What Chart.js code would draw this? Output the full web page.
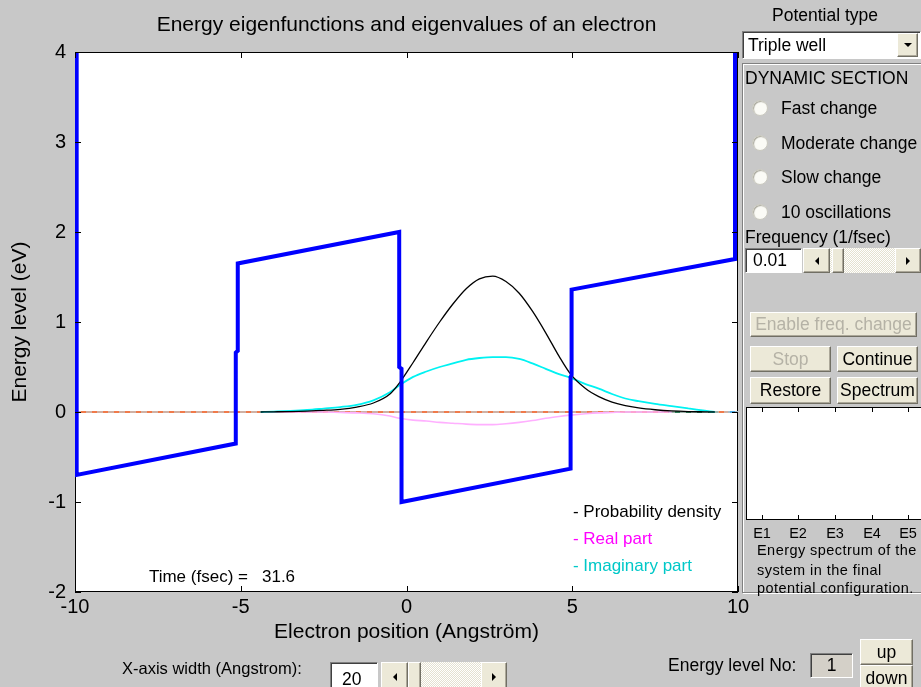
<!DOCTYPE html>
<html>
<head>
<meta charset="utf-8">
<script src="https://cdn.jsdelivr.net/npm/chart.js@4.4.1/dist/chart.umd.min.js"></script>
<style>
  html, body { margin:0; padding:0; }
  body { width:921px; height:687px; overflow:hidden; position:relative; background:#c8c8c8;
         font-family:'Liberation Sans', Arial, sans-serif; color:#000; }
  #plot { position:absolute; left:0; top:0; }
  .abs { position:absolute; white-space:nowrap; }
  .lbl { position:absolute; white-space:nowrap; font-size:17.5px; line-height:20px; }
  .btn { position:absolute; box-sizing:border-box; background:#ece9d8;
         border-top:1px solid #fff; border-left:1px solid #fff;
         border-right:1px solid #716f64; border-bottom:1px solid #716f64;
         box-shadow: inset -1px -1px 0 #aca899;
         display:flex; align-items:center; justify-content:center;
         font-size:17.5px; white-space:nowrap; }
  .btn.off { color:#b5b2a6; }
  .edit { position:absolute; box-sizing:border-box; background:#fff;
          border-top:1px solid #808080; border-left:1px solid #808080;
          border-right:1px solid #fff; border-bottom:1px solid #fff;
          box-shadow: inset 1px 1px 0 #404040;
          font-size:17.5px; display:flex; align-items:center; white-space:nowrap; }
  .trough { position:absolute; box-sizing:border-box;
            background: repeating-conic-gradient(#ffffff 0 25%, #e4e1d0 0 50%) 0 0/2px 2px; }
  .tri-l { width:0; height:0; border-top:4px solid transparent; border-bottom:4px solid transparent; border-right:4px solid #000; }
  .tri-r { width:0; height:0; border-top:4px solid transparent; border-bottom:4px solid transparent; border-left:4px solid #000; }
  .tri-d { width:0; height:0; border-left:4px solid transparent; border-right:4px solid transparent; border-top:4px solid #000; }
  .radio { position:absolute; width:16px; height:16px; box-sizing:border-box; border-radius:50%;
           background:#fbfbf6; border:1px solid #c9c8bf; box-shadow: inset 1px 1px 1px #a8a79c; }
  .frame { position:absolute; box-sizing:border-box; border:1px solid #808080;
           box-shadow: inset 1px 1px 0 #fff, 1px 1px 0 #fff; }
  .spec { position:absolute; box-sizing:border-box; background:#fff;
          border-top:1px solid #000; border-left:1px solid #000; border-bottom:1px solid #000; }
  .tick { position:absolute; width:1px; height:4px; background:#000; }
  .note { position:absolute; white-space:nowrap; font-size:14.5px; letter-spacing:0.45px; line-height:18px; }
</style>
</head>
<body>
<canvas id="plot" width="921" height="687"></canvas>
<div id="gui"></div>
<script>
// Axis ranges and tick values
const xRange = [-10, 10];
const yRange = [-2, 4];
const xTickStep = 5;
const yTickStep = 1;

// Triple-well potential energy profile (Angström, eV)
const potentialX = [-9.95, -9.95, -5.15, -5.15, -5.09, -5.09, -0.22, -0.22, -0.15, -0.15, 4.95, 4.95, 4.98, 4.98, 9.91, 9.91];
const potentialE = [4.00, -0.70, -0.35, 0.66, 0.68, 1.65, 2.00, 0.50, 0.48, -1.00, -0.63, 0.39, 0.41, 1.36, 1.70, 4.00];

// Wave packet sample positions (Angström)
const waveX = [-4.4, -4.0, -3.5, -3.0, -2.5, -2.0, -1.5, -1.0, -0.5, -0.2, 0.2, 0.6, 1.0, 1.4, 1.8, 2.2, 2.6,
               3.0, 3.4, 3.8, 4.2, 4.6, 4.95, 5.4, 5.8, 6.2, 6.6, 7.0, 7.5, 8.0, 8.5, 9.0, 9.3];
// Probability density
const probDensity = [0, 0.002, 0.005, 0.01, 0.018, 0.03, 0.055, 0.10, 0.20, 0.33, 0.55, 0.78, 1.00, 1.20, 1.37, 1.48, 1.51,
                     1.45, 1.32, 1.12, 0.88, 0.62, 0.42, 0.26, 0.17, 0.11, 0.07, 0.045, 0.025, 0.012, 0.005, 0.002, 0];
// Real part of the wave function
const realPart = [0, 0, 0, 0, 0, -0.005, -0.01, -0.02, -0.045, -0.07, -0.09, -0.10, -0.115, -0.125, -0.135, -0.14, -0.14,
                  -0.13, -0.115, -0.095, -0.07, -0.05, -0.035, -0.02, -0.01, -0.005, 0, 0, 0, 0, null, null, null];
// Imaginary part of the wave function
const imagPart = [0, 0.005, 0.012, 0.022, 0.038, 0.055, 0.08, 0.13, 0.22, 0.30, 0.39, 0.45, 0.50, 0.54, 0.58, 0.60, 0.61,
                  0.61, 0.59, 0.54, 0.48, 0.42, 0.38, 0.31, 0.26, 0.20, 0.15, 0.12, 0.09, 0.065, 0.04, 0.015, 0];

// Zero-energy reference traces
const baseX = [-10, 10];
const baseE = [0, 0];
const tailX = [7.9, 9.4];
const tailE = [0, 0];
const edgeX = [9.7, 10];
const edgeE = [0, 0];

// Readouts and labels
const timeFsec = 31.6;
const legendLabels = ['- Probability density', '- Real part', '- Imaginary part'];
const spectrumLabels = ['E1', 'E2', 'E3', 'E4', 'E5'];
const radioLabels = ['Fast change', 'Moderate change', 'Slow change', '10 oscillations'];
const frequencyValue = '0.01';
const xWidthValue = '20';
const energyLevelNo = '1';

const pts = (xs, ys) => xs.map((x, i) => ({ x: x, y: ys[i] }));

const FONT = "'Liberation Sans', Arial, sans-serif";
Chart.defaults.font.family = FONT;
Chart.defaults.color = '#000';

// White plot area, box outline, inward tick marks and in-plot text
const axesBox = {
  id: 'axesBox',
  beforeDraw(chart) {
    const { ctx, chartArea: a } = chart;
    ctx.save();
    ctx.fillStyle = '#ffffff';
    ctx.fillRect(a.left, a.top, a.right - a.left, a.bottom - a.top);
    ctx.restore();
  },
  beforeDatasetsDraw(chart) {
    const { ctx, chartArea: a } = chart;
    ctx.save();
    ctx.strokeStyle = '#000';
    ctx.lineWidth = 1;
    ctx.strokeRect(a.left + 0.5, a.top + 0.5, a.right - a.left - 1, a.bottom - a.top - 1);
    ctx.restore();
  },
  afterDatasetsDraw(chart) {
    const { ctx, chartArea: a, scales } = chart;
    const xs = scales.x, ys = scales.y;
    const L = 6;
    ctx.save();
    ctx.strokeStyle = '#000';
    ctx.lineWidth = 1;
    ctx.beginPath();
    xs.ticks.forEach(t => {
      const px = Math.round(xs.getPixelForValue(t.value)) + 0.5;
      ctx.moveTo(px, a.top); ctx.lineTo(px, a.top + L);
      ctx.moveTo(px, a.bottom); ctx.lineTo(px, a.bottom - L);
    });
    ys.ticks.forEach(t => {
      const py = Math.round(ys.getPixelForValue(t.value)) + 0.5;
      ctx.moveTo(a.left, py); ctx.lineTo(a.left + L, py);
      ctx.moveTo(a.right, py); ctx.lineTo(a.right - L, py);
    });
    ctx.stroke();

    // time readout
    ctx.font = '17px ' + FONT;
    ctx.textBaseline = 'middle';
    ctx.textAlign = 'left';
    ctx.fillStyle = '#000';
    const ty = ys.getPixelForValue(-1.84);
    ctx.fillText('Time (fsec) =', xs.getPixelForValue(-7.77), ty);
    ctx.fillText(String(timeFsec), xs.getPixelForValue(-4.36), ty);

    // legend text
    const legendColors = ['#000000', '#ff00ff', '#00c8c8'];
    const legendY = [-1.12, -1.41, -1.72];
    legendLabels.forEach((s, i) => {
      ctx.fillStyle = legendColors[i];
      ctx.fillText(s, xs.getPixelForValue(5.02), ys.getPixelForValue(legendY[i]));
    });
    ctx.restore();
  }
};

new Chart(document.getElementById('plot'), {
  type: 'line',
  data: {
    datasets: [
      { label: 'Potential', data: pts(potentialX, potentialE), borderColor: '#0000ff', borderWidth: 4,
        pointRadius: 0, order: 0, borderJoinStyle: 'miter' },
      { label: 'Probability density', data: pts(waveX, probDensity), borderColor: '#000000', borderWidth: 1.3,
        pointRadius: 0, cubicInterpolationMode: 'monotone', order: 1 },
      { label: 'Imaginary part', data: pts(waveX, imagPart), borderColor: '#00f2f2', borderWidth: 1.8,
        pointRadius: 0, cubicInterpolationMode: 'monotone', order: 2 },
      { label: 'Real part', data: pts(waveX, realPart), borderColor: '#ffb0ff', borderWidth: 1.6,
        pointRadius: 0, cubicInterpolationMode: 'monotone', order: 3, spanGaps: false },
      { label: 'Energy level', data: pts(baseX, baseE), borderColor: '#c4c4c4', borderWidth: 1.5,
        borderDash: [6, 5], pointRadius: 0, order: 4 },
      { label: 'tail', data: pts(tailX, tailE), borderColor: '#2b7a55', borderWidth: 2, pointRadius: 0, order: 5 },
      { label: 'edge', data: pts(edgeX, edgeE), borderColor: '#4aa8e0', borderWidth: 2, pointRadius: 0, order: 6 },
      { label: 'base', data: pts(baseX, baseE), borderColor: '#f07a4a', borderWidth: 2, pointRadius: 0, order: 7 }
    ]
  },
  options: {
    responsive: false,
    animation: false,
    devicePixelRatio: 1,
    layout: { padding: { left: 0, top: 0, right: 183, bottom: 0 } },
    plugins: {
      legend: { display: false },
      tooltip: { enabled: false },
      title: {
        display: true, fullSize: false,
        text: 'Energy eigenfunctions and eigenvalues of an electron',
        font: { size: 21, weight: 'normal' }, color: '#000',
        padding: { top: 13, bottom: 13.8 }
      }
    },
    scales: {
      x: {
        type: 'linear', min: xRange[0], max: xRange[1],
        ticks: { stepSize: xTickStep, font: { size: 20 }, color: '#000', padding: 3, maxRotation: 0 },
        grid: { display: false, drawTicks: false },
        border: { display: false },
        title: { display: true, text: 'Electron position (Angström)', font: { size: 21 }, color: '#000',
                 padding: { top: 0, bottom: 42 } },
        afterFit(s) { s.height = 95; }
      },
      y: {
        type: 'linear', min: yRange[0], max: yRange[1],
        ticks: { stepSize: yTickStep, font: { size: 20 }, color: '#000', padding: 9 },
        grid: { display: false, drawTicks: false },
        border: { display: false },
        title: { display: true, text: 'Energy level (eV)', font: { size: 21 }, color: '#000',
                 padding: { top: 8, bottom: 0 } },
        afterFit(s) { s.width = 75; }
      }
    }
  },
  plugins: [axesBox]
});

// ---- control panel widgets ----
const gui = document.getElementById('gui');
function el(cls, x, y, w, h, html, extra) {
  const d = document.createElement('div');
  d.className = cls;
  d.style.left = x + 'px'; d.style.top = y + 'px';
  if (w != null) d.style.width = w + 'px';
  if (h != null) d.style.height = h + 'px';
  if (html != null) d.innerHTML = html;
  if (extra) Object.assign(d.style, extra);
  gui.appendChild(d);
  return d;
}
function slider(x, y, w, h, thumbX, thumbW) {
  el('trough', x, y, w, h);
  el('btn', x, y, 27, h, '<div class="tri-l"></div>');
  el('btn', thumbX, y, thumbW, h);
  el('btn', x + w - 26, y, 26, h, '<div class="tri-r"></div>');
}

// potential selector
el('lbl', 772, 5, null, null, 'Potential type');
el('edit', 742, 31, 179, 28, '<span style="padding-left:5px">Triple well</span>');
el('btn', 897, 33, 21, 24, '<div class="tri-d"></div>');

// dynamic section frame
el('frame', 742, 63, 190, 530);
el('lbl', 745, 68, null, null, 'DYNAMIC SECTION');
const radioY = [108, 143, 177, 212];
radioLabels.forEach((s, i) => {
  el('radio', 752, radioY[i] - 8);
  el('lbl', 781, radioY[i] - 10, null, null, s);
});
el('lbl', 745, 227, null, null, 'Frequency (1/fsec)');
el('edit', 745, 248, 57, 25, '<span style="padding-left:7px">' + frequencyValue + '</span>');
slider(803, 248, 118, 25, 832, 12);

el('btn off', 750, 312, 167, 25, 'Enable freq. change');
el('btn off', 750, 346, 81, 26, 'Stop');
el('btn', 837, 346, 81, 26, 'Continue');
el('btn', 750, 377, 81, 27, 'Restore');
el('btn', 837, 377, 81, 27, 'Spectrum');

// energy spectrum axes
el('spec', 746, 407, 180, 113);
const specX = [762, 798, 835, 872, 908];
spectrumLabels.forEach((s, i) => {
  el('tick', specX[i], 408);
  el('tick', specX[i], 515);
  el('abs', specX[i] - 12, 524, 24, null, s, { fontSize: '14.5px', textAlign: 'center', lineHeight: '18px' });
});
el('note', 757, 541, null, null, 'Energy spectrum of the');
el('note', 757, 561, null, null, 'system in the final');
el('note', 757, 579, null, null, 'potential configuration.');

// bottom controls
el('lbl', 122, 658, null, null, 'X-axis width (Angstrom):', { fontSize: '16.5px' });
el('edit', 330, 662, 48, 30, '<span style="padding-left:11px;padding-top:4px">' + xWidthValue + '</span>');
slider(381, 662, 126, 30, 408, 13);

el('lbl', 668, 655, null, null, 'Energy level No:');
el('edit', 810, 653, 43, 25, energyLevelNo, { background: '#d4d0c8', justifyContent: 'center' });
el('btn', 860, 639, 53, 26, 'up');
el('btn', 860, 665, 53, 30, '<span style="margin-top:-4px">down</span>');
</script>
</body>
</html>
